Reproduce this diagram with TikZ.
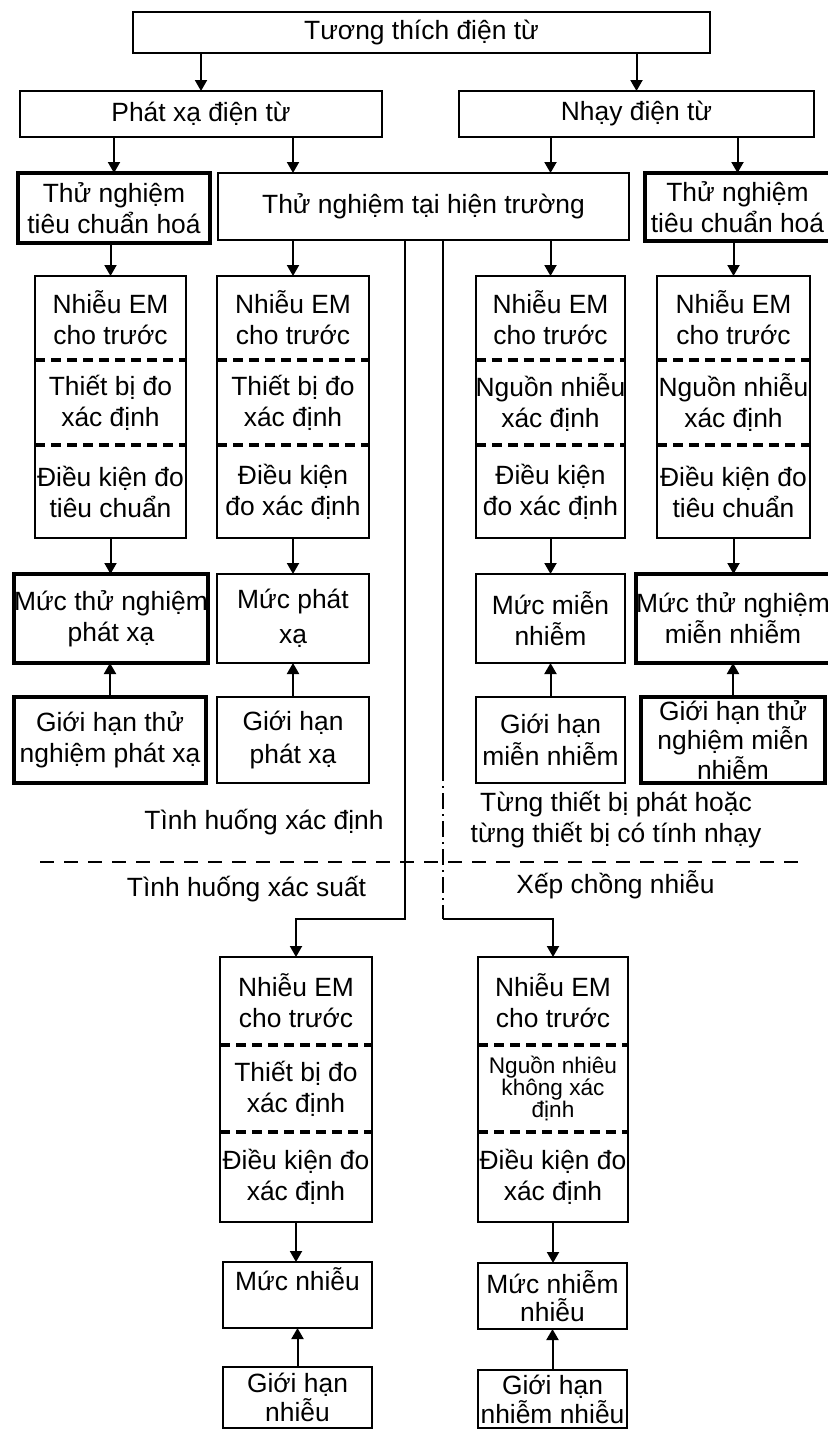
\documentclass[tikz,border=0pt]{standalone}
\usepackage{fontspec}
\setmainfont{Liberation Sans}
\usetikzlibrary{arrows.meta}

\begin{document}
\begin{tikzpicture}[x=0.5pt, y=-0.5pt,
  every node/.style={font=\fontsize{13.2}{15.5}\selectfont, align=center, inner sep=0pt, outer sep=0pt},
  box/.style={draw, line width=1.2pt},
  thickbox/.style={draw, line width=2.1pt},
  frame/.style={line width=1.2pt},
  divider/.style={line width=1.8pt, dash pattern=on 5pt off 3pt},
  link/.style={line width=1pt, -{Triangle[length=5.5pt,width=6pt]}},
  separator/.style={line width=1.1pt, dash pattern=on 7pt off 5pt},
  dashdot/.style={line width=1pt, dash pattern=on 8pt off 2.5pt on 1pt off 2.5pt}]

\useasboundingbox[fill=white] (0,0) rectangle (827,1430);

% top levels
\node[box, minimum width=288.5pt, minimum height=20.5pt] (emc) at (421.5,32.5) {Tương thích điện từ};
\node[box, minimum width=181pt, minimum height=23pt] (emis) at (201,114) {Phát xạ điện từ};
\node[box, minimum width=177.5pt, minimum height=23pt] (susc) at (636.5,114) {Nhạy điện từ};

\node[thickbox, minimum width=96pt, minimum height=35pt] (stdE) at (114,208) {Thử nghiệm\\tiêu chuẩn hoá};
\node[box, minimum width=205.5pt, minimum height=33.5pt] (field) at (423.5,206.5) {Thử nghiệm tại hiện trường};
\node[thickbox, minimum width=92.5pt, minimum height=34pt] (stdS) at (737.5,207) {Thử nghiệm\\tiêu chuẩn hoá};

% stacks, deterministic case
\node[minimum width=75.5pt, minimum height=42pt] (c1a) at (110.5,318) {Nhiễu EM\\cho trước};
\node[minimum width=75.5pt, minimum height=42.5pt] (c1b) at (110.5,402.5) {Thiết bị đo\\xác định};
\node[minimum width=75.5pt, minimum height=46.5pt] (c1c) at (110.5,491.5) {Điều kiện đo\\tiêu chuẩn};

\node[minimum width=76pt, minimum height=42pt] (c2a) at (293,318) {Nhiễu EM\\cho trước};
\node[minimum width=76pt, minimum height=42.5pt] (c2b) at (293,402.5) {Thiết bị đo\\xác định};
\node[minimum width=76pt, minimum height=46.5pt] (c2c) at (293,491.5) {Điều kiện\\đo xác định};

\node[minimum width=74.5pt, minimum height=42pt] (c3a) at (550.5,318) {Nhiễu EM\\cho trước};
\node[minimum width=74.5pt, minimum height=42.5pt] (c3b) at (550.5,402.5) {Nguồn nhiễu\\xác định};
\node[minimum width=74.5pt, minimum height=46.5pt] (c3c) at (550.5,491.5) {Điều kiện\\đo xác định};

\node[minimum width=76.5pt, minimum height=42pt] (c4a) at (733.5,318) {Nhiễu EM\\cho trước};
\node[minimum width=76.5pt, minimum height=42.5pt] (c4b) at (733.5,402.5) {Nguồn nhiễu\\xác định};
\node[minimum width=76.5pt, minimum height=46.5pt] (c4c) at (733.5,491.5) {Điều kiện đo\\tiêu chuẩn};

\draw[frame] (c1a.north west) rectangle (c1c.south east);
\draw[frame] (c2a.north west) rectangle (c2c.south east);
\draw[frame] (c3a.north west) rectangle (c3c.south east);
\draw[frame] (c4a.north west) rectangle (c4c.south east);
\draw[divider] (c1b.north west) -- (c1b.north east);
\draw[divider] (c1c.north west) -- (c1c.north east);
\draw[divider] (c2b.north west) -- (c2b.north east);
\draw[divider] (c2c.north west) -- (c2c.north east);
\draw[divider] (c3b.north west) -- (c3b.north east);
\draw[divider] (c3c.north west) -- (c3c.north east);
\draw[divider] (c4b.north west) -- (c4b.north east);
\draw[divider] (c4c.north west) -- (c4c.north east);

% levels and limits
\node[thickbox, minimum width=96pt, minimum height=44.5pt] (m1) at (111,618.5) {Mức thử nghiệm\\phát xạ};
\node[box, minimum width=76pt, minimum height=44.5pt, font=\fontsize{13.2}{17.5}\selectfont] (m2) at (293,618.5) {Mức phát\\xạ};
\node[box, minimum width=74.5pt, minimum height=44.5pt] (m3) at (550.5,618.5) {Mức miễn\\nhiễm};
\node[thickbox, minimum width=92pt, minimum height=44.5pt] (m4) at (733,618.5) {Mức thử nghiệm\\miễn nhiễm};

\node[thickbox, minimum width=96pt, minimum height=43pt] (g1) at (110,740) {Giới hạn thử\\nghiệm phát xạ};
\node[box, minimum width=76pt, minimum height=43pt, font=\fontsize{13.2}{16.5}\selectfont] (g2) at (293,740) {Giới hạn\\phát xạ};
\node[box, minimum width=74.5pt, minimum height=43pt, font=\fontsize{13.2}{16}\selectfont] (g3) at (550.5,740) {Giới hạn\\miễn nhiễm};
\node[thickbox, minimum width=92pt, minimum height=43pt, font=\fontsize{13.2}{13}\selectfont] (g4) at (733,740) {Giới hạn thử\\nghiệm miễn\\nhiễm};

% case labels
\node (certain) at (264,822) {Tình huống xác định};
\node (single) at (616,820) {Từng thiết bị phát hoặc\\từng thiết bị có tính nhạy};
\node (prob) at (246.5,889) {Tình huống xác suất};
\node (superpos) at (615.5,885) {Xếp chồng nhiễu};

% stacks, probabilistic case
\node[minimum width=76pt, minimum height=44pt] (p1a) at (296,1001) {Nhiễu EM\\cho trước};
\node[minimum width=76pt, minimum height=43.5pt] (p1b) at (296,1088.5) {Thiết bị đo\\xác định};
\node[minimum width=76pt, minimum height=45pt] (p1c) at (296,1177) {Điều kiện đo\\xác định};

\node[minimum width=75pt, minimum height=44pt] (p2a) at (553,1001) {Nhiễu EM\\cho trước};
\node[minimum width=75pt, minimum height=43.5pt, font=\fontsize{11.3}{10.8}\selectfont] (p2b) at (553,1088.5) {Nguồn nhiêu\\không xác\\định};
\node[minimum width=75pt, minimum height=45pt] (p2c) at (553,1177) {Điều kiện đo\\xác định};

\draw[frame] (p1a.north west) rectangle (p1c.south east);
\draw[frame] (p2a.north west) rectangle (p2c.south east);
\draw[divider] (p1b.north west) -- (p1b.north east);
\draw[divider] (p1c.north west) -- (p1c.north east);
\draw[divider] (p2b.north west) -- (p2b.north east);
\draw[divider] (p2c.north west) -- (p2c.north east);

\node[box, minimum width=74.5pt, minimum height=33pt] (n1) at (297.5,1295) {Mức nhiễu\\\phantom{M}};
\node[box, minimum width=74.5pt, minimum height=33pt, font=\fontsize{13.2}{14}\selectfont] (n2) at (552.5,1296) {Mức nhiễm\\nhiễu};
\node[box, minimum width=74.5pt, minimum height=30.5pt, font=\fontsize{13.2}{11.5}\selectfont] (l1) at (297.5,1397.5) {Giới hạn\\nhiễu};
\node[box, minimum width=74.5pt, minimum height=29pt, font=\fontsize{13.2}{11.5}\selectfont] (l2) at (552.5,1399) {Giới hạn\\nhiễm nhiễu};

% connectors
\draw[link] (emc.south -| emis) -- (emis.north);
\draw[link] (emc.south -| susc) -- (susc.north);
\draw[link] (emis.south -| stdE) -- (stdE.north);
\draw[link] (emis.south -| c2a) -- (field.north -| c2a);
\draw[link] (susc.south -| c3a) -- (field.north -| c3a);
\draw[link] (susc.south -| stdS) -- (stdS.north);

\draw[link] (stdE.south -| c1a) -- (c1a.north);
\draw[link] (field.south -| c2a) -- (c2a.north);
\draw[link] (field.south -| c3a) -- (c3a.north);
\draw[link] (stdS.south -| c4a) -- (c4a.north);

\draw[link] (c1c.south) -- (c1c.south |- m1.north);
\draw[link] (c2c.south) -- (c2c.south |- m2.north);
\draw[link] (c3c.south) -- (c3c.south |- m3.north);
\draw[link] (c4c.south) -- (c4c.south |- m4.north);

\draw[link] (g1.north) -- (g1.north |- m1.south);
\draw[link] (g2.north) -- (g2.north |- m2.south);
\draw[link] (g3.north) -- (g3.north |- m3.south);
\draw[link] (g4.north) -- (g4.north |- m4.south);

\coordinate (turnL) at (405,919);
\coordinate (turnR) at (443,919);
\coordinate (breakR) at (443,765);
\draw[link] (field.south -| turnL) -- (turnL) -| (p1a.north);
\draw[line width=1pt] (field.south -| breakR) -- (breakR);
\draw[dashdot] (breakR) -- (turnR);
\draw[link] (turnR) -| (p2a.north);

\coordinate (sepL) at (40,862);
\coordinate (sepR) at (802,862);
\draw[separator] (sepL) -- (sepR);

\draw[link] (p1c.south) -- (p1c.south |- n1.north);
\draw[link] (p2c.south) -- (p2c.south |- n2.north);
\draw[link] (l1.north) -- (l1.north |- n1.south);
\draw[link] (l2.north) -- (l2.north |- n2.south);
\end{tikzpicture}
\end{document}
